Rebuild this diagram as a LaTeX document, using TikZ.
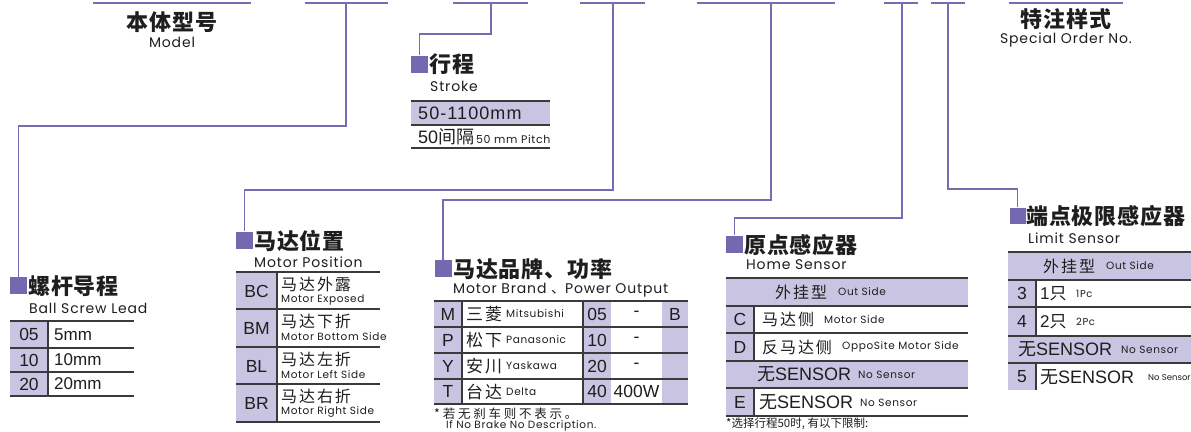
\documentclass[tikz,border=0pt]{standalone}
\usepackage{fontspec}
\setmainfont{Liberation Sans}
\newfontfamily\cjkfont{Noto Sans CJK SC}
\newfontfamily\cjktitle{Noto Sans CJK SC}[LetterSpace=4]
\newfontfamily\cjkwide{Noto Sans CJK SC}[LetterSpace=12]
\newfontfamily\cjknote{Noto Sans CJK SC}[LetterSpace=22]
\newfontfamily\geofont{Poppins}[LetterSpace=6]
\newfontfamily\geotight{Poppins}
\newfontfamily\numwide{Liberation Sans}[LetterSpace=6]

\definecolor{linepurple}{RGB}{118,108,180}
\definecolor{sqpurple}{RGB}{116,104,176}
\definecolor{lav}{RGB}{201,196,225}
\definecolor{rulegray}{RGB}{58,58,58}
\definecolor{ink}{RGB}{30,30,30}

\tikzset{
  conn/.style={draw=linepurple, line width=1.6pt},
  sq/.style={fill=sqpurple, minimum size=17pt, inner sep=0pt},
  ttl/.style={anchor=west, inner sep=0pt, text=ink, font=\cjktitle\bfseries\fontsize{22}{22}\selectfont},
  eng/.style={anchor=west, inner sep=0pt, text=ink, font=\geofont\fontsize{14}{14}\selectfont},
  rule/.style={draw=rulegray, line width=1.6pt},
  code/.style={inner sep=0pt, text=ink, font=\fontsize{17.5}{17.5}\selectfont},
  cell/.style={anchor=west, inner sep=0pt, text=ink, font=\fontsize{17}{17}\selectfont},
  zhcell/.style={anchor=west, inner sep=0pt, text=ink, font=\cjkwide\fontsize{16}{16}\selectfont},
  small/.style={anchor=west, inner sep=0pt, text=ink, font=\geofont\fontsize{10.5}{10.5}\selectfont},
  sensor/.style={anchor=west, inner sep=0pt, text=ink, font=\fontsize{18}{18}\selectfont},
}

\begin{document}
\begin{tikzpicture}[x=1pt, y=-1pt]
  \useasboundingbox[fill=white] (0,0) rectangle (1191,431);

  % 顶部编码横线
  \draw[conn] (93,3) -- (251,3);
  \coordinate (s2) at (346,3);
  \draw[conn] (305,3) -- (388,3);
  \coordinate (s3) at (491,3);
  \draw[conn] (453,3) -- (528,3);
  \coordinate (s4) at (613,3);
  \draw[conn] (580,3) -- (645,3);
  \coordinate (s5) at (771,3);
  \draw[conn] (697,3) -- (835,3);
  \coordinate (s6) at (902,3);
  \draw[conn] (884,3) -- (918,3);
  \coordinate (s7) at (948,3);
  \draw[conn] (931,3) -- (965,3);
  \draw[conn] (1009,3) -- (1123,3);

  % 本体型号 / 特注样式
  \node[inner sep=0pt, text=ink, font=\cjktitle\bfseries\fontsize{22}{22}\selectfont] (model) at (172,22) {本体型号};
  \node[inner sep=0pt, text=ink, font=\geofont\fontsize{14}{14}\selectfont] (modelen) at (172,42) {Model};
  \node[inner sep=0pt, text=ink, font=\cjktitle\bfseries\fontsize{22}{22}\selectfont] (special) at (1066,19) {特注样式};
  \node[inner sep=0pt, text=ink, font=\geofont\fontsize{14}{14}\selectfont] (specialen) at (1066,40) {Special Order No.};

  % 各项标题方块
  \node[sq] (sqLead) at (18.5,285.5) {};
  \node[sq] (sqStroke) at (419.5,64) {};
  \node[sq] (sqPos) at (244.5,240) {};
  \node[sq] (sqBrand) at (443,268.5) {};
  \node[sq] (sqHome) at (734.5,244) {};
  \node[sq, minimum size=16pt] (sqLimit) at (1017.5,215.5) {};

  % 连接线
  \draw[conn] (s2) -- ++(0,123) -| (sqLead.north);
  \draw[conn] (s3) -- ++(0,31) -| (sqStroke.north);
  \draw[conn] (s4) -- ++(0,187) -| (sqPos.north);
  \draw[conn] (s5) -- ++(0,197) -| (sqBrand.north);
  \draw[conn] (s6) -- ++(0,215) -| (sqHome.north);
  \draw[conn] (s7) -- ++(0,186) -| (sqLimit.north);

  % 螺杆导程
  \node[ttl] (leadT) at (28,286) {螺杆导程};
  \node[eng] (leadE) at (29,308) {Ball Screw Lead};
  \fill[lav] (10,321) rectangle (48,396);
  \foreach \y in {321,348,372,396} \draw[rule] (10,\y) -- (134,\y);
  \draw[rule] (48,321) -- (48,396);
  \foreach \cd/\val/\y [count=\i] in {05/5mm/334.5, 10/10mm/360, 20/20mm/384}{
    \node[code] (leadc\i) at (29,\y) {\cd};
    \node[cell] (leadv\i) at (54,\y) {\val};
  }

  % 行程
  \node[ttl] (strokeT) at (429,64) {行程};
  \node[eng] (strokeE) at (430,86) {Stroke};
  \fill[lav] (411,101) rectangle (550,125);
  \foreach \y in {101,125,148} \draw[rule] (411,\y) -- (550,\y);
  \node[cell, font=\numwide\fontsize{18}{18}\selectfont] (range) at (418,113) {50-1100mm};
  \node[cell, font=\fontsize{18}{18}\selectfont] (pitch) at (418,137) {50{\cjkfont 间隔}\geofont\fontsize{11}{11}\selectfont\,50 mm Pitch};

  % 马达位置
  \node[ttl] (posT) at (254,241) {马达位置};
  \node[eng] (posE) at (254,262) {Motor Position};
  \fill[lav] (236,272) rectangle (277,422);
  \foreach \y in {272,309,347,384,422} \draw[rule] (236,\y) -- (380,\y);
  \draw[rule] (277,272) -- (277,422);
  \foreach \cd/\zh/\en/\y [count=\i] in {BC/马达外露/Motor Exposed/272, BM/马达下折/Motor Bottom Side/309, BL/马达左折/Motor Left Side/347, BR/马达右折/Motor Right Side/384}{
    \node[code] (posc\i) at (256.5,\y+19) {\cd};
    \node[zhcell] (posz\i) at (281,\y+12) {\zh};
    \node[small] (pose\i) at (281,\y+28) {\en};
  }

  % 马达品牌、功率
  \node[ttl] (brandT) at (453,269) {马达品牌、功率};
  \node[eng] (brandE) at (453,290) {Motor Brand {\cjkfont 、}Power Output};
  \fill[lav] (434,301) rectangle (462,404);
  \fill[lav] (583,301) rectangle (611,404);
  \fill[lav] (662,301) rectangle (688,404);
  \foreach \y in {301,327,353,379,404} \draw[rule] (434,\y) -- (688,\y);
  \draw[rule] (462,301) -- (462,404);
  \draw[rule] (583,301) -- (583,404);
  \foreach \cd/\zh/\en/\kw/\pw/\y [count=\i] in {M/三菱/Mitsubishi/05/-/314, P/松下/Panasonic/10/-/340, Y/安川/Yaskawa/20/-/366, T/台达/Delta/40/400W/391.5}{
    \node[code] (brc\i) at (448,\y) {\cd};
    \node[zhcell, font=\cjkwide\fontsize{17}{17}\selectfont] (brz\i) at (466,\y) {\zh};
    \node[small] (bre\i) at (506,\y) {\en};
    \node[code] (brk\i) at (597,\y) {\kw};
    \node[code] (brp\i) at (636.5,\y) {\pw};
  }
  \node[code] (brB) at (675,314) {B};
  \node[anchor=west, inner sep=0pt, text=ink, font=\cjknote\fontsize{12.5}{12.5}\selectfont] (brandN1) at (434,414) {*若无刹车则不表示。};
  \node[small] (brandN2) at (446,425.5) {If No Brake No Description.};

  % 原点感应器
  \node[ttl] (homeT) at (744,245) {原点感应器};
  \node[eng] (homeE) at (746,265) {Home Sensor};
  \fill[lav] (726,278) rectangle (968,306);
  \fill[lav] (726,361) rectangle (968,388);
  \fill[lav] (726,306) rectangle (754,361);
  \fill[lav] (726,388) rectangle (754,416);
  \foreach \y in {278,306,333,361,388,416} \draw[rule] (726,\y) -- (968,\y);
  \draw[rule] (754,306) -- (754,361);
  \draw[rule] (754,388) -- (754,416);
  \node[zhcell] (homeOut) at (775,292) {外挂型};
  \node[small] (homeOutE) at (838,292) {Out Side};
  \node[code] (homeC) at (740,319.5) {C};
  \node[zhcell] (homeCz) at (762,319.5) {马达侧};
  \node[small] (homeCe) at (824,319.5) {Motor Side};
  \node[code] (homeD) at (740,347) {D};
  \node[zhcell] (homeDz) at (762,347) {反马达侧};
  \node[small] (homeDe) at (842,347) {OppoSite Motor Side};
  \node[sensor] (homeNo) at (757,374.5) {{\cjkfont 无}SENSOR};
  \node[small] (homeNoE) at (858,375) {No Sensor};
  \node[code] (homeE5) at (740,402) {E};
  \node[sensor] (homeEz) at (759,402) {{\cjkfont 无}SENSOR};
  \node[small] (homeEe) at (860,402.5) {No Sensor};
  \node[anchor=west, inner sep=0pt, text=ink, font=\cjkfont\fontsize{11.5}{11.5}\selectfont] (homeN) at (726,424) {*选择行程50时, 有以下限制:};

  % 端点极限感应器
  \node[ttl] (limT) at (1026,216) {端点极限感应器};
  \node[eng] (limE) at (1028,238) {Limit Sensor};
  \fill[lav] (1008,252) rectangle (1191,280);
  \fill[lav] (1008,336) rectangle (1191,363);
  \fill[lav] (1008,280) rectangle (1036,336);
  \fill[lav] (1008,363) rectangle (1036,390);
  \foreach \y in {252,280,307,336,363} \draw[rule] (1008,\y) -- (1191,\y);
  \draw[rule] (1036,280) -- (1036,336);
  \draw[rule] (1036,363) -- (1036,390);
  \node[zhcell] (limOut) at (1043,266) {外挂型};
  \node[small] (limOutE) at (1106,266) {Out Side};
  \node[code] (lim3) at (1022,293.5) {3};
  \node[cell] (lim3z) at (1040,293.5) {1{\cjkfont 只}};
  \node[small, font=\geofont\fontsize{10}{10}\selectfont] (lim3e) at (1076,293.5) {1Pc};
  \node[code] (lim4) at (1022,321.5) {4};
  \node[cell] (lim4z) at (1040,321.5) {2{\cjkfont 只}};
  \node[small, font=\geofont\fontsize{10}{10}\selectfont] (lim4e) at (1076,321.5) {2Pc};
  \node[sensor] (limNo) at (1018,349.5) {{\cjkfont 无}SENSOR};
  \node[small] (limNoE) at (1121,350) {No Sensor};
  \node[code] (lim5) at (1022,377) {5};
  \node[sensor] (lim5z) at (1040,377) {{\cjkfont 无}SENSOR};
  \node[small, font=\geotight\fontsize{8.5}{8.5}\selectfont] (lim5e) at (1148,377.5) {No Sensor};
\end{tikzpicture}
\end{document}
